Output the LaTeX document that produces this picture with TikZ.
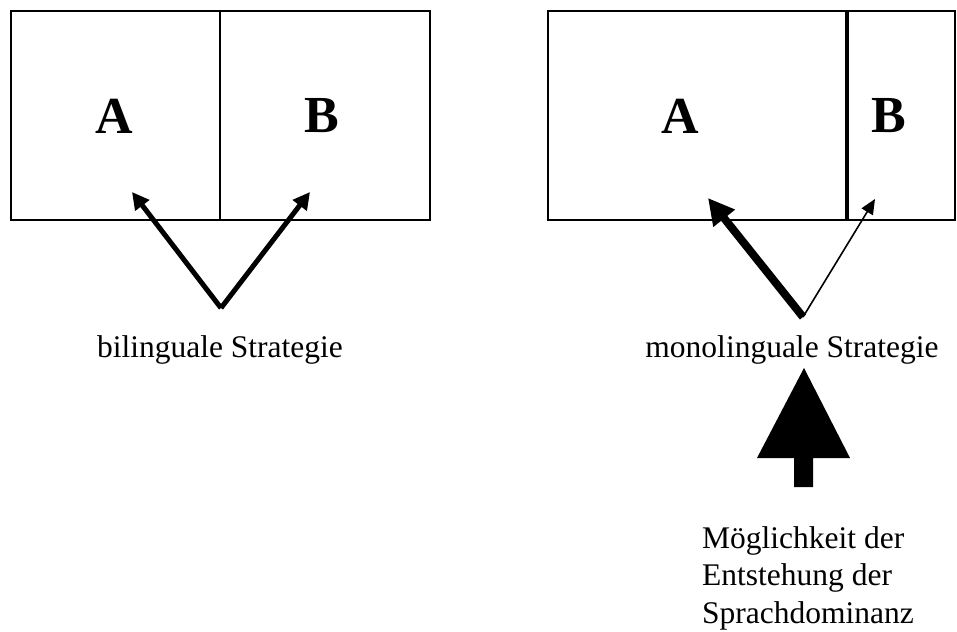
\documentclass[tikz,border=0pt]{standalone}
\usepackage{fontspec}
\setmainfont{Liberation Serif}
\usetikzlibrary{arrows.meta}
\begin{document}
\begin{tikzpicture}[x=1pt,y=-1pt,
  cell/.style={draw, line width=1.3pt, minimum height=209pt, inner sep=0pt,
    outer sep=0pt, anchor=north west},
  letter/.style={font=\fontsize{52}{60}\selectfont\bfseries, inner sep=0pt},
  caption/.style={font=\fontsize{31.5}{37.5}\selectfont, inner sep=0pt},
  thickarrow/.style={line width=5pt, -{Triangle[length=17pt,width=17pt]}},
  heavyarrow/.style={line width=8pt, -{Triangle[length=26pt,width=26pt]}},
  lightarrow/.style={line width=1.6pt, -{Triangle[length=15pt,width=13pt]}}]
\useasboundingbox (0,0) rectangle (957,631);

% bilingual strategy: two equal halves
\node[cell, minimum width=209pt] (lA) at (11,11) {};
\node[cell, minimum width=210pt] (lB) at (220,11) {};
\node[letter] (la) at (114,116) {A};
\node[letter] (lb) at (322,116) {B};
\coordinate (lbase) at (221,308);
\coordinate (ltipA) at (132,192);
\coordinate (ltipB) at (310,192);
\draw[thickarrow] (lbase) -- (ltipA);
\draw[thickarrow] (lbase) -- (ltipB);
\node[caption, anchor=base] (lcap) at (220,357) {bilinguale Strategie};

% monolingual strategy: dominant language A
\node[cell, minimum width=299pt] (rA) at (548,11) {};
\node[cell, minimum width=108pt] (rB) at (847,11) {};
\draw[line width=3.5pt] (rA.north east) -- (rA.south east);
\node[letter] (ra) at (680,116) {A};
\node[letter] (rb) at (889,116) {B};
\coordinate (rbase) at (803,317);
\coordinate (rtipA) at (708,198);
\coordinate (rtipB) at (875,199);
\draw[heavyarrow] (rbase) -- (rtipA);
\draw[lightarrow] (rbase) -- (rtipB);
\node[caption, anchor=base] (rcap) at (792,357) {monolinguale Strategie};

% block arrow pointing up at the monolingual strategy
\fill (804,368) -- (850,458) -- (813,458) -- (813,487) -- (794,487) -- (794,458)
  -- (757,458) -- cycle;

% anchor "base west" of a multi-line node sits on its last line
\node[caption, anchor=base west, align=left] (dom) at (702,623)
  {Möglichkeit der\\Entstehung der\\Sprachdominanz};
\end{tikzpicture}
\end{document}
